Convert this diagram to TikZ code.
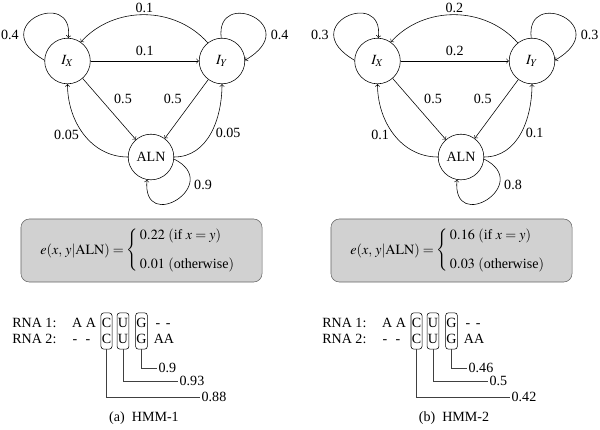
\documentclass[tikz,border=0pt]{standalone}
\usepackage{amsmath}
\usepackage{mathptmx}
\usepackage[no-math]{fontspec}
\setmainfont{Liberation Serif}
\usetikzlibrary{fit}

\tikzset{
  state/.style={draw,circle,minimum size=1.14cm,inner sep=0pt},
  emitbox/.style={draw=black!60,fill=black!18,rounded corners=6pt,
    minimum width=6.025cm,minimum height=1.575cm},
  seqtxt/.style={inner sep=0pt,text height=1.5ex,text depth=0.25ex},
  colbox/.style={draw,rounded corners=2pt,inner xsep=0.4pt,inner ysep=3pt},
  leader/.style={black!75},
  prob/.style={inner sep=1pt},
}

\begin{document}
\begin{tikzpicture}[x=0.025cm,y=0.025cm,>=to,thin]
    \useasboundingbox (0,0) rectangle (600,-429);

    % One panel per model, the second one shifted right
    \foreach \dx/\self/\cross/\back/\stay/\hit/\miss/\pc/\pu/\pg/\tag/\hmm in {
    0/0.4/0.1/0.05/0.9/0.22/0.01/0.88/0.93/0.9/a/HMM-1,
    310/0.3/0.2/0.1/0.8/0.16/0.03/0.42/0.5/0.46/b/HMM-2} {
    \begin{scope}[shift={(\dx,0)}]
    % States
    \node[state] (IX) at (67.5,-61) {$I_X$};
    \node[state] (IY) at (222,-61) {$I_Y$};
    \node[state] (ALN) at (151,-157) {ALN};

    % Self transitions
    \draw[->] (IX.178) .. controls +(-60,35) and +(6,51) .. (IX.88)
        node[pos=.25,left] {\self};
    \draw[->] (IY.92) .. controls +(-6,51) and +(60,35) .. (IY.2)
        node[pos=.75,right] {\self};
    \draw[->] (ALN.-5) .. controls +(50,-25) and +(-5,-55) .. (ALN.-100)
        node[pos=.3,right] {\stay};

    % Transitions between states
    \draw[->] (IX) -- (IY) node[midway,above] {\cross};
    \draw[->] (IY.128) to[bend right=48]
        node[midway,above,inner sep=1pt] {\cross} (IX.55);
    \draw[->] (IX) -- (ALN) node[midway,above right] {0.5};
    \draw[->] (IY) -- (ALN) node[midway,above left] {0.5};
    \draw[->] (ALN.180) to[out=180,in=-90] node[midway,left] {\back} (IX.-90);
    \draw[->] (ALN.0) to[out=0,in=-90] node[midway,right] {\back} (IY.-90);

    % Emission probabilities
    \node[emitbox] (emit) at (141.5,-250.5) {$e(x,\,y|\mathrm{ALN}) = \left\{
        \begin{array}{@{\,}l}
        \hit\ (\text{if } x=y)\\[9pt]
        \miss\ (\text{otherwise})
        \end{array}\right.$};

    % Alignment example
    \node[seqtxt,anchor=west] (row1) at (12,-323) {RNA 1:};
    \node[seqtxt,anchor=west] (row2) at (12,-339) {RNA 2:};
    \node[seqtxt] (lead1) at (84,-323) {A A};
    \node[seqtxt] (lead2) at (81.5,-339) {-\hspace{6pt}-};
    \node[seqtxt] (tail1) at (163,-323) {-\hspace{4pt}-};
    \node[seqtxt] (tail2) at (164,-339) {AA};
    \foreach \col/\cx in {C/106.5,U/123,G/141.5} {
    \node[seqtxt] (\col1) at (\cx,-323) {\col};
    \node[seqtxt] (\col2) at (\cx,-339) {\col};
    \node[colbox,fit=(\col1)(\col2)] (box\col) {};
    }

    % Posterior of each aligned column
    \node[prob,anchor=west] (pG) at (157,-368) {\pg};
    \node[prob,anchor=west] (pU) at (178,-381) {\pu};
    \node[prob,anchor=west] (pC) at (200,-397) {\pc};
    \draw[leader] (boxG.south) |- (pG.west);
    \draw[leader] (boxU.south) |- (pU.west);
    \draw[leader] (boxC.south) |- (pC.west);

    \node (cap) at (144,-418) {(\tag)\enspace\hmm};
    \end{scope}
    }
\end{tikzpicture}
\end{document}
